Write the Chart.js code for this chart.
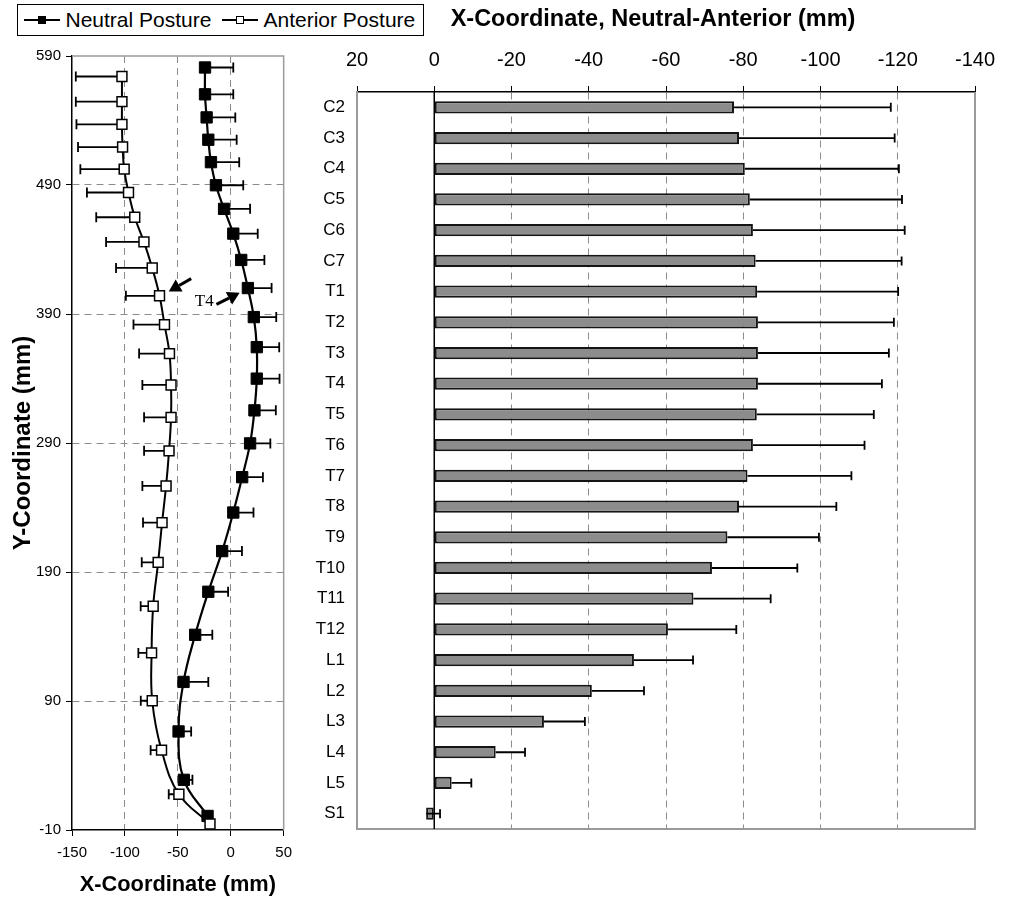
<!DOCTYPE html>
<html>
<head>
<meta charset="utf-8">
<script src="https://cdn.jsdelivr.net/npm/chart.js@4.4.0/dist/chart.umd.min.js"></script>
<style>
  html, body { margin:0; padding:0; background:#fff; width:1010px; height:899px; overflow:hidden; }
  #left { position:absolute; left:0; top:0; }
  #right { position:absolute; left:290px; top:0; }
  #legend { position:absolute; left:17px; top:4px; width:405px; height:30px; border:1.5px solid #000; background:#fff;
            font-family:"Liberation Sans", Arial, sans-serif; font-size:21px; color:#000; z-index:5; }
  #legend .lt { position:absolute; top:0; height:30px; line-height:30px; white-space:nowrap; }
  #legend .sym { position:absolute; top:0; width:36px; height:30px; }
  #legend .ln { position:absolute; left:0; top:14px; width:36px; height:2px; background:#000; }
  #legend .sq { position:absolute; left:14px; top:11px; width:8px; height:8px; box-sizing:border-box; }
  #legend .filled { background:#000; }
  #legend .open { background:#fff; border:1.5px solid #000; }
</style>
</head>
<body>
<canvas id="left" width="300" height="899"></canvas>
<canvas id="right" width="726" height="899"></canvas>
<div id="legend">
  <div class="sym" style="left:5.5px"><div class="ln"></div><div class="sq filled"></div></div>
  <span class="lt" style="left:47.5px">Neutral Posture</span>
  <div class="sym" style="left:203.5px"><div class="ln"></div><div class="sq open"></div></div>
  <span class="lt" style="left:245.5px">Anterior Posture</span>
</div>
<script>
// ---------------- DATA ----------------
const vertebrae = ['C2','C3','C4','C5','C6','C7','T1','T2','T3','T4','T5','T6','T7','T8','T9','T10','T11','T12','L1','L2','L3','L4','L5','S1'];

// Left panel: mean X / Y coordinates (mm) and SD of X
const neutralX  = [-24.3,-24.3,-22.8,-21.2,-18.7,-14.0,-6.3,2.4,9.9,16.2,21.8,24.6,24.6,22.4,18.3,10.8,2.4,-8.1,-21.2,-33.6,-44.6,-49.3,-44.3,-21.9];
const neutralY  = [581.1,560.3,542.4,525.1,507.7,489.8,471.5,452.3,431.9,410.1,387.6,364.3,339.9,315.3,289.7,263.5,236.1,206.2,174.7,141.3,104.8,66.4,28.9,0.9];
const neutralSD = [26.7,26.7,27.1,26.8,26.7,25.8,24.6,23.1,21.9,22.4,21.2,21.2,21.5,20.2,19.1,19.6,19.1,18.7,18.7,16.2,23.4,11.9,8.1,3.0];

const anteriorX  = [-102.8,-102.8,-102.8,-102.2,-100.7,-96.6,-90.7,-82.0,-74.2,-67.3,-62.6,-57.9,-56.4,-56.4,-58.3,-61.1,-64.9,-68.6,-73.3,-74.8,-74.2,-65.4,-49.0,-19.6];
const anteriorY  = [574.1,554.6,537.0,519.4,502.3,484.2,465.0,445.9,425.7,404.1,381.8,359.3,335.0,309.9,283.9,256.7,228.3,197.5,163.5,127.3,90.2,51.9,17.7,-5.3];
const anteriorSD = [43.6,43.6,43.0,42.1,41.4,39.3,36.4,35.8,34.2,31.8,29.3,28.7,27.1,25.5,23.6,22.4,18.0,15.5,11.8,12.5,10.8,10.3,9.6,3.0];

const leftXTicks = [-150,-100,-50,0,50];
const leftYTicks = [-10,90,190,290,390,490,590];

// Right panel: X difference Neutral-Anterior (mm) and SD
const diffValues = [-77.6,-78.9,-80.4,-81.7,-82.5,-83.2,-83.6,-83.8,-83.8,-83.8,-83.5,-82.5,-81.1,-78.9,-75.9,-71.9,-67.1,-60.5,-51.7,-40.8,-28.4,-15.9,-4.5,2.1];
const diffSD     = [40.6,40.3,39.9,39.4,39.3,37.8,36.5,35.2,33.9,32.1,30.3,28.9,26.9,25.2,23.7,22.1,20.0,17.7,15.3,13.5,10.6,7.6,5.1,3.6];
const rightXTicks = [-140,-120,-100,-80,-60,-40,-20,0,20];

// T4 annotation (data coordinates of left panel)
const t4Label = 'T4';
const t4Anchor = { x: -25, y: 400 };
const t4Arrows = [
  { from: { x: -37.4, y: 417.4 }, to: { x: -58.6, y: 407.5 } },
  { from: { x: -13.5, y: 397.4 }, to: { x: 8.4,  y: 406.5 } }
];

// ---------------- STYLE ----------------
const FONT = '"Liberation Sans", Arial, sans-serif';
Chart.defaults.font.family = FONT;
Chart.defaults.color = '#000';
const GRID_GRAY = '#8c8c8c';
const FRAME_GRAY = '#9a9a9a';

// ---------------- LEFT PANEL ----------------
const leftFrame = {
  id: 'leftFrame',
  beforeDatasetsDraw(chart) {
    const { ctx, chartArea: a } = chart;
    ctx.save();
    ctx.strokeStyle = FRAME_GRAY; ctx.lineWidth = 1.5;
    ctx.beginPath();
    ctx.moveTo(a.left, a.top); ctx.lineTo(a.right, a.top); ctx.lineTo(a.right, a.bottom);
    ctx.stroke();
    ctx.restore();
  }
};

const leftErrorBars = {
  id: 'leftErrorBars',
  beforeDatasetsDraw(chart) {
    const { ctx, scales: { x, y } } = chart;
    ctx.save();
    ctx.strokeStyle = '#000'; ctx.lineWidth = 1.8;
    const draw = (xs, ys, sds, dir) => {
      for (let i = 0; i < xs.length; i++) {
        const py = y.getPixelForValue(ys[i]);
        const p0 = x.getPixelForValue(xs[i]);
        const p1 = x.getPixelForValue(xs[i] + dir * sds[i]);
        ctx.beginPath();
        ctx.moveTo(p0, py); ctx.lineTo(p1, py);
        ctx.moveTo(p1, py - 5); ctx.lineTo(p1, py + 5);
        ctx.stroke();
      }
    };
    draw(neutralX, neutralY, neutralSD, 1);
    draw(anteriorX, anteriorY, anteriorSD, -1);
    ctx.restore();
  }
};

const t4Annotation = {
  id: 't4Annotation',
  afterDatasetsDraw(chart) {
    const { ctx, scales: { x, y } } = chart;
    ctx.save();
    ctx.fillStyle = '#000'; ctx.strokeStyle = '#000';
    t4Arrows.forEach(a => {
      const tx = x.getPixelForValue(a.from.x), ty = y.getPixelForValue(a.from.y);
      const hx = x.getPixelForValue(a.to.x),   hy = y.getPixelForValue(a.to.y);
      const ang = Math.atan2(hy - ty, hx - tx);
      const headLen = 12, headW = 7;
      const bx = hx - headLen * Math.cos(ang), by = hy - headLen * Math.sin(ang);
      ctx.lineWidth = 3;
      ctx.beginPath(); ctx.moveTo(tx, ty); ctx.lineTo(bx, by); ctx.stroke();
      ctx.beginPath();
      ctx.moveTo(hx, hy);
      ctx.lineTo(bx + headW * Math.sin(ang), by - headW * Math.cos(ang));
      ctx.lineTo(bx - headW * Math.sin(ang), by + headW * Math.cos(ang));
      ctx.closePath(); ctx.fill();
    });
    ctx.font = '17px "Liberation Serif", "Times New Roman", serif';
    ctx.textAlign = 'center'; ctx.textBaseline = 'middle';
    ctx.fillText(t4Label, x.getPixelForValue(t4Anchor.x), y.getPixelForValue(t4Anchor.y));
    ctx.restore();
  }
};

const interiorColor = (ticks) => (c) => {
  const v = c.tick ? c.tick.value : null;
  return (v !== null && v !== ticks[0] && v !== ticks[ticks.length - 1]) ? GRID_GRAY : 'rgba(0,0,0,0)';
};

new Chart(document.getElementById('left'), {
  type: 'scatter',
  data: {
    datasets: [
      {
        label: 'Anterior Posture',
        data: anteriorX.map((v, i) => ({ x: v, y: anteriorY[i] })),
        showLine: true, borderColor: '#000', borderWidth: 2, tension: 0.4,
        pointStyle: 'rect', pointRadius: 7, pointBackgroundColor: '#fff',
        pointBorderColor: '#000', pointBorderWidth: 1.5, clip: false
      },
      {
        label: 'Neutral Posture',
        data: neutralX.map((v, i) => ({ x: v, y: neutralY[i] })),
        showLine: true, borderColor: '#000', borderWidth: 2.2, tension: 0.4,
        pointStyle: 'rect', pointRadius: 8, pointBackgroundColor: '#000',
        pointBorderColor: '#000', pointBorderWidth: 1, clip: false
      }
    ]
  },
  options: {
    responsive: false, animation: false, events: [],
    layout: { padding: { top: 56, right: 14, left: 0, bottom: 0 } },
    plugins: { legend: { display: false }, tooltip: { enabled: false } },
    scales: {
      x: {
        type: 'linear', min: leftXTicks[0], max: leftXTicks[leftXTicks.length - 1],
        afterBuildTicks: s => { s.ticks = leftXTicks.map(v => ({ value: v })); },
        afterFit: s => { s.height = 69; },
        ticks: { font: { size: 15 }, padding: 8, color: '#000', callback: v => String(v) },
        grid: { color: interiorColor(leftXTicks), tickColor: '#000', tickLength: 6, lineWidth: 1 },
        border: { color: '#000', width: 1.5, dash: [7, 5] },
        title: { display: true, text: 'X-Coordinate (mm)', color: '#000',
                 font: { size: 21.8, weight: 'bold' }, padding: { top: 0, bottom: 0.5 } }
      },
      y: {
        type: 'linear', min: leftYTicks[0], max: leftYTicks[leftYTicks.length - 1],
        afterBuildTicks: s => { s.ticks = leftYTicks.map(v => ({ value: v })); },
        afterFit: s => { s.width = 72; },
        ticks: { font: { size: 15 }, padding: 5, color: '#000', callback: v => String(v) },
        grid: { color: interiorColor(leftYTicks), tickColor: '#000', tickLength: 6, lineWidth: 1 },
        border: { color: '#000', width: 1.5, dash: [7, 5] },
        title: { display: true, text: 'Y-Coordinate (mm)', color: '#000',
                 font: { size: 24, weight: 'bold' }, padding: { top: 8.5, bottom: 0 } }
      }
    }
  },
  plugins: [leftFrame, leftErrorBars, t4Annotation]
});

// ---------------- RIGHT PANEL ----------------
const rightExtras = {
  id: 'rightExtras',
  afterLayout(chart) {
    // centre the title across the full canvas width
    if (chart.titleBlock) { chart.titleBlock.left = 0; chart.titleBlock.right = chart.width; }
  },
  beforeDatasetsDraw(chart) {
    const { ctx, chartArea: a, scales: { x } } = chart;
    ctx.save();
    ctx.strokeStyle = FRAME_GRAY; ctx.lineWidth = 2;
    ctx.beginPath();
    ctx.moveTo(a.left, a.bottom); ctx.lineTo(a.right, a.bottom); ctx.lineTo(a.right, a.top);
    ctx.stroke();
    const z = x.getPixelForValue(0);
    ctx.strokeStyle = '#000'; ctx.lineWidth = 1.5;
    ctx.beginPath(); ctx.moveTo(z, a.top); ctx.lineTo(z, a.bottom); ctx.stroke();
    ctx.restore();
  },
  afterDatasetsDraw(chart) {
    const { ctx, scales: { x, y } } = chart;
    ctx.save();
    ctx.strokeStyle = '#000'; ctx.lineWidth = 1.8;
    for (let i = 0; i < diffValues.length; i++) {
      const py = y.getPixelForValue(i);
      const p0 = x.getPixelForValue(diffValues[i]);
      const p1 = x.getPixelForValue(diffValues[i] - diffSD[i]);
      ctx.beginPath();
      ctx.moveTo(p0, py); ctx.lineTo(p1, py);
      ctx.moveTo(p1, py - 4.5); ctx.lineTo(p1, py + 4.5);
      ctx.stroke();
    }
    ctx.restore();
  }
};

const TITLE_SIZE = 23.5, TITLE_PAD_TOP = 5;
const titleBoxHeight = TITLE_SIZE * 1.2 + TITLE_PAD_TOP;

new Chart(document.getElementById('right'), {
  type: 'bar',
  data: {
    labels: vertebrae,
    datasets: [{
      data: diffValues, backgroundColor: '#8c8c8c', borderColor: '#141414',
      borderWidth: 2, borderSkipped: false, barPercentage: 0.4, categoryPercentage: 1
    }]
  },
  options: {
    indexAxis: 'y', responsive: false, animation: false, events: [],
    layout: { padding: { top: 0, right: 41, left: 0, bottom: 70 } },
    plugins: {
      legend: { display: false }, tooltip: { enabled: false },
      title: { display: true, text: 'X-Coordinate, Neutral-Anterior (mm)', color: '#000',
               font: { size: TITLE_SIZE, weight: 'bold' }, padding: { top: TITLE_PAD_TOP, bottom: 0 } }
    },
    scales: {
      x: {
        type: 'linear', position: 'top', reverse: true,
        min: rightXTicks[0], max: rightXTicks[rightXTicks.length - 1],
        afterBuildTicks: s => { s.ticks = rightXTicks.map(v => ({ value: v })); },
        afterFit: s => { s.height = 92 - titleBoxHeight; },
        ticks: { font: { size: 20 }, padding: 14, color: '#000', callback: v => String(v) },
        grid: {
          color: c => {
            const v = c.tick ? c.tick.value : null;
            return (v === null || v === 0 || v === rightXTicks[0] || v === rightXTicks[rightXTicks.length - 1]) ? 'rgba(0,0,0,0)' : GRID_GRAY;
          },
          tickColor: '#000', tickLength: 6, lineWidth: 1
        },
        border: { color: '#000', width: 1.5, dash: [7, 5] }
      },
      y: {
        type: 'category',
        afterFit: s => { s.width = 67; },
        ticks: { font: { size: 17 }, padding: 12, color: '#000' },
        grid: { display: false, drawTicks: false },
        border: { color: FRAME_GRAY, width: 2 }
      }
    }
  },
  plugins: [rightExtras]
});
</script>
</body>
</html>
